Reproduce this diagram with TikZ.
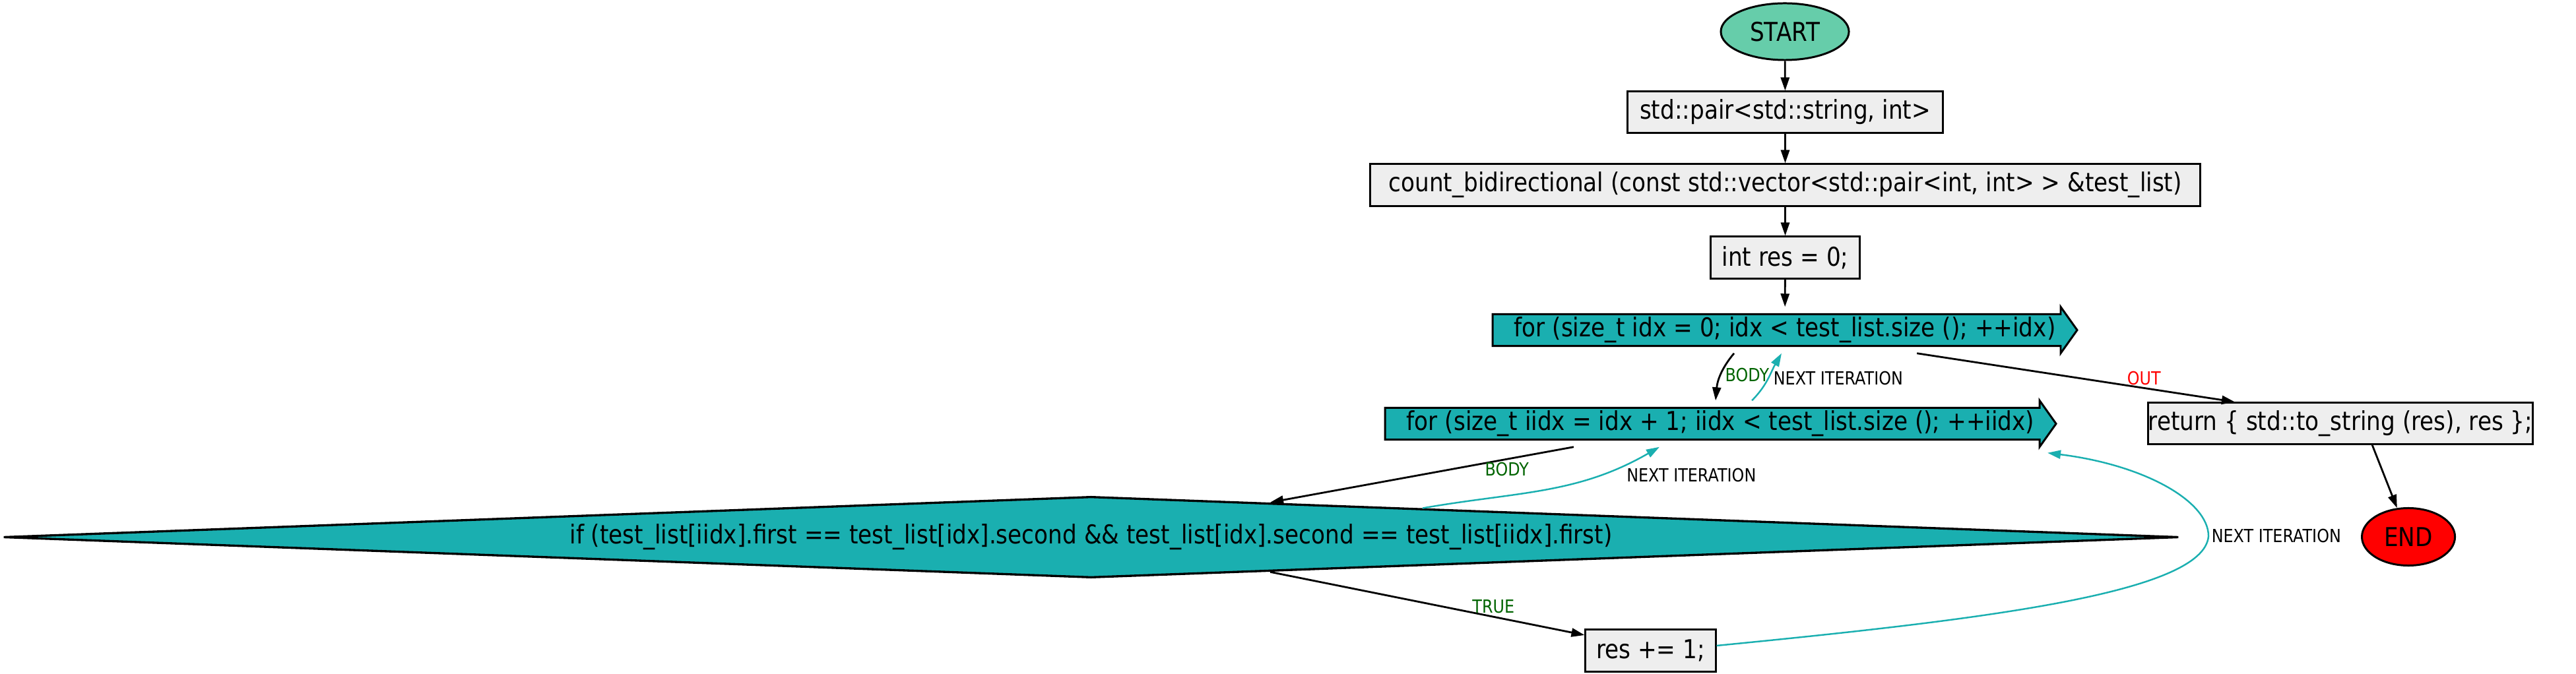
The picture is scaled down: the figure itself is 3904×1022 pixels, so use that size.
\documentclass[tikz,border=0pt]{standalone}
\usepackage{fontspec}
\setmainfont{DejaVu Sans}[FakeStretch=0.87]
\usetikzlibrary{arrows.meta,shapes.geometric,backgrounds}

\definecolor{loopteal}{RGB}{26,175,176}
\definecolor{startgreen}{RGB}{102,205,170}
\definecolor{boxgray}{RGB}{238,238,238}
\definecolor{labelgreen}{RGB}{0,100,0}

\begin{document}
\begin{tikzpicture}[x=0.01cm, y=-0.01cm,
    every node/.style={font=\fontsize{11.2}{13}\selectfont, inner sep=0pt},
    terminal/.style={ellipse, draw, line width=0.85pt},
    stmt/.style={rectangle, draw, fill=boxgray, line width=0.85pt},
    loophead/.style={rectangle, minimum height=0.69cm},
    loopshape/.style={fill=loopteal, draw, line width=0.85pt, line join=miter},
    cond/.style={diamond, aspect=27, draw, fill=loopteal, line width=0.95pt},
    flow/.style={-{Triangle[length=0.2cm,width=0.13cm]}, line width=0.8pt},
    back/.style={flow, draw=loopteal, line width=0.7pt},
    lbl/.style={font=\fontsize{7.8}{9}\selectfont, inner sep=1pt}]
        \useasboundingbox (0,0) rectangle (3904,1022);

        % Nodes
        \node[terminal, fill=startgreen, minimum width=1.94cm, minimum height=0.86cm] (start) at (2705,48) {START};
        \node[stmt, minimum width=4.78cm, minimum height=0.62cm] (pair) at (2705.5,170) {std::pair<std::string, int>};
        \node[stmt, minimum width=12.57cm, minimum height=0.63cm] (count) at (2705.5,280.5) {count\_bidirectional (const std::vector<std::pair<int, int> > \&test\_list)};
        \node[stmt, minimum width=2.25cm, minimum height=0.63cm] (init) at (2705.5,390.5) {int res = 0;};
        \node[loophead, minimum width=8.84cm] (fidx) at (2705,500.5) {for (size\_t idx = 0; idx < test\_list.size (); ++idx)};
        \node[loophead, minimum width=10.15cm] (fiidx) at (2607.5,642.5) {for (size\_t iidx = idx + 1; iidx < test\_list.size (); ++iidx)};
        \node[cond, minimum width=32.95cm, minimum height=1.23cm] (iff) at (1653.5,814.5) {if (test\_list[iidx].first == test\_list[idx].second \&\& test\_list[idx].second == test\_list[iidx].first)};
        \node[stmt, minimum width=1.97cm, minimum height=0.63cm] (res) at (2501.5,986.5) {res += 1;};
        \node[stmt, minimum width=5.56cm, minimum height=0.62cm] (ret) at (3547,642) {return \{ std::to\_string (res), res \};};
        \node[terminal, fill=red, minimum width=1.41cm, minimum height=0.87cm] (finish) at (3650,814) {END};

        % Loop heads
        \begin{scope}[on background layer]
        \foreach \n in {fidx, fiidx} {
            \filldraw[loopshape] ([yshift=-0.11cm]\n.north west) -- ([xshift=-0.25cm, yshift=-0.11cm]\n.north east)
                -- ([xshift=-0.25cm]\n.north east) -- (\n.east) -- ([xshift=-0.25cm]\n.south east)
                -- ([xshift=-0.25cm, yshift=0.11cm]\n.south east) -- ([yshift=0.11cm]\n.south west) -- cycle;
        }
        \end{scope}

        % Edges
        \draw[flow] (start) -- (pair);
        \draw[flow] (pair) -- (count);
        \draw[flow] (count) -- (init);
        \draw[flow] (init) -- (fidx);
        \draw[flow] ([xshift=-0.77cm]fidx.south) to[out=-130, in=85] node[lbl, right, xshift=0.02cm, text=labelgreen] {BODY} ([xshift=-0.075cm]fiidx.north);
        \draw[back] ([xshift=0.475cm]fiidx.north) to[out=45, in=-120] node[lbl, right, xshift=0.03cm] {NEXT ITERATION} ([xshift=-0.05cm]fidx.south);
        \draw[flow] ([xshift=2cm]fidx.south) -- node[lbl, above, pos=0.714, text=red] {OUT} ([xshift=-1.6cm]ret.north);
        \draw[flow] ([xshift=-2.225cm]fiidx.south) -- node[lbl, below, pos=0.22, text=labelgreen] {BODY} (iff.11.8);
        \draw[back] (iff.5.75) to[out=10, in=-150] node[lbl, pos=0.85, below right] {NEXT ITERATION} ([xshift=-0.925cm]fiidx.south);
        \draw[flow] (iff.-11.6) -- node[lbl, above, pos=0.71, text=labelgreen] {TRUE} ([yshift=0.235cm]res.west);
        \coordinate (loopback) at (3347,813);
        \draw[back] ([yshift=0.075cm]res.east) .. controls (3000,940) and (3340,900) .. (loopback)
            node[lbl, right] {NEXT ITERATION}
            .. controls (3347,760) and (3250,705) .. ([xshift=-0.13cm, yshift=-0.09cm]fiidx.south east);
        \draw[flow] ([xshift=0.48cm]ret.south) -- (finish);
      \end{tikzpicture}
\end{document}
